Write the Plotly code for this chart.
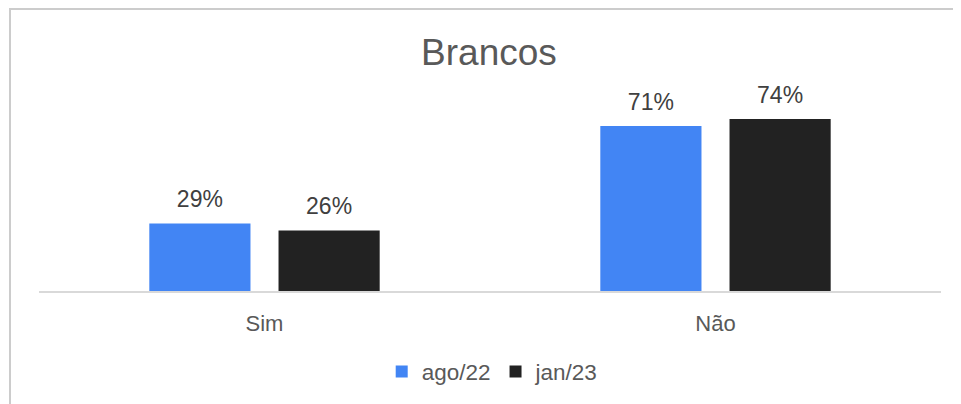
import plotly.graph_objects as go

categories = ["Sim", "Não"]
series_names = ["ago/22", "jan/23"]
ago22 = [0.29, 0.71]
jan23 = [0.26, 0.74]
colors = ["#4285F4", "#222222"]

L, T, W, H = 31, 97, 902, 186

fig = go.Figure()
for i, (name, vals, col) in enumerate(zip(series_names, [ago22, jan23], colors)):
    fig.add_trace(go.Bar(
        x=categories, y=vals, name=name, marker_color=col,
        marker_line_width=0, offsetgroup=str(i),
    ))
for i, vals in enumerate([ago22, jan23]):
    fig.add_trace(go.Scatter(
        x=categories, y=vals, mode="markers+text", offsetgroup=str(i),
        text=[f"{round(v*100)}%" for v in vals], textposition="top center",
        textfont=dict(size=23, color="#404040"),
        marker=dict(size=15, opacity=0), showlegend=False, hoverinfo="skip",
        cliponaxis=False,
    ))

fig.update_layout(
    width=961, height=404,
    margin=dict(l=L, r=961 - L - W, t=T, b=404 - T - H),
    paper_bgcolor="white", plot_bgcolor="white",
    barmode="group", bargap=0.427, bargroupgap=0.217,
    scattermode="group", scattergap=0.427,
    font=dict(family="Liberation Sans, Arial, sans-serif", color="#595959"),
    title=dict(text="Brancos", x=0.5005, xanchor="center", y=1 - 44 / 404, yanchor="middle",
               font=dict(size=37, color="#595959")),
    showlegend=True,
    legend=dict(orientation="h", x=0.503, xanchor="center", y=-0.435, yanchor="middle",
                font=dict(size=22.5, color="#595959"), itemwidth=30, traceorder="normal"),
    xaxis=dict(showline=True, linecolor="#d9d9d9", linewidth=2, ticks="",
               tickfont=dict(size=22, color="#595959"), ticklabelstandoff=12,
               showgrid=False),
    yaxis=dict(range=[0, 0.8], visible=False, showgrid=False, zeroline=False),
)
fig.add_shape(type="rect", xref="paper", yref="paper",
              x0=(2 - L) / W, x1=1.2, y0=-3, y1=(T + H - 1) / H,
              line=dict(color="#cccccc", width=2), fillcolor="rgba(0,0,0,0)", layer="below")
fig.write_html("out.html")
